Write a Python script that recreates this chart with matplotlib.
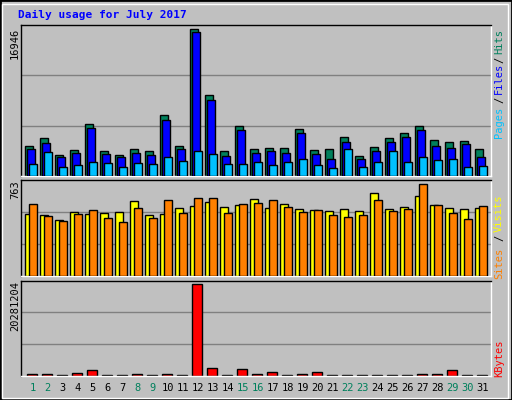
import matplotlib
matplotlib.use("Agg")
import matplotlib.pyplot as plt
from matplotlib.patches import Rectangle
import numpy as np

days = list(range(1, 32))
weekend = [1, 2, 8, 9, 15, 16, 22, 23, 29, 30]
hits = [3459, 4381, 2421, 2998, 5995, 2882, 2421, 3113, 2882, 7033, 3459, 16946, 9338, 2882, 5764, 3113,
        3228, 3228, 5418, 2998, 3113, 4496, 2306, 3343, 4381, 4957, 5764, 4150, 3920, 4035, 3113]
files = [3113, 3804, 2190, 2652, 5534, 2536, 2190, 2652, 2421, 6456, 3113, 16601, 8762, 2306, 5303, 2652,
         2882, 2652, 4957, 2536, 1960, 3920, 1960, 2882, 3920, 4496, 5303, 3459, 3228, 3689, 2190]
pages = [1383, 2767, 1038, 1268, 1614, 1499, 1038, 1499, 1383, 2190, 1729, 2882, 2536, 1383, 1383, 1614,
         1268, 1614, 1960, 1268, 922, 3113, 1038, 1614, 2882, 1614, 2190, 1845, 1960, 1038, 1153]
visits = [514, 506, 464, 531, 514, 522, 531, 622, 506, 514, 564, 580, 614, 572, 589, 638,
          564, 597, 556, 547, 539, 556, 539, 688, 556, 572, 663, 589, 564, 556, 564]
sites = [597, 498, 456, 514, 547, 481, 448, 564, 481, 630, 522, 647, 647, 522, 597, 605,
         630, 572, 531, 547, 506, 489, 506, 630, 539, 556, 763, 589, 522, 473, 580]
kbytes = [445740, 445740, 222870, 668610, 1337220, 222870, 222870, 445740, 222870, 445740, 222870, 20281204,
          1782960, 222870, 1560090, 445740, 891480, 222870, 445740, 891480, 222870, 222870, 222870, 222870,
          222870, 222870, 445740, 445740, 1337220, 222870, 222870]

BG = "#c0c0c0"
W, H = 512, 400
fig = plt.figure(figsize=(5.12, 4.0), dpi=100, facecolor=BG)
fig.add_artist(Rectangle((0, 0), 1, 1, transform=fig.transFigure, fill=False, ec="black", lw=2))
fig.add_artist(Rectangle((2/W, 2/H), 1-6/W, 1-6/H, transform=fig.transFigure, fill=False, ec="white", lw=1))

def ax_px(x0, y0, x1, y1):
    return fig.add_axes([x0 / W, 1 - y1 / H, (x1 - x0) / W, (y1 - y0) / H])

x = np.arange(31, dtype=float)
bw = 0.49

def setup(ax, ymax):
    ax.set_facecolor(BG)
    ax.set_xlim(-0.31, 31.03)
    ax.set_ylim(0, ymax)
    for v in (ymax / 3, 2 * ymax / 3):
        ax.axhline(v, color="#808080", lw=1, zorder=0)
    ax.set_xticks([]); ax.set_yticks([])
    for s in ax.spines.values():
        s.set_color("black"); s.set_linewidth(1)
    ax.spines["bottom"].set_color("white"); ax.spines["right"].set_color("white")

ax1 = ax_px(20.7, 24.7, 490.7, 176)
setup(ax1, 455 * 38.43)
ax1.bar(x, hits, width=bw, align="edge", color="#00805c", ec="black", lw=1, zorder=2)
ax1.bar(x + 0.13, files, width=bw, align="edge", color="#0000ff", ec="black", lw=1, zorder=3)
ax1.bar(x + 0.27, pages, width=bw, align="edge", color="#00c0ff", ec="black", lw=1, zorder=4)

ax2 = ax_px(20.7, 180, 490.7, 276.3)
setup(ax2, 289 * 2.764)
ax2.bar(x, visits, width=bw, align="edge", color="#ffff00", ec="black", lw=1, zorder=2)
ax2.bar(x + 0.27, sites, width=bw, align="edge", color="#ff8000", ec="black", lw=1, zorder=3)

ax3 = ax_px(20.7, 280.7, 490.7, 376)
setup(ax3, 284 * 74290)
ax3.bar(x + 0.13, kbytes, width=0.66, align="edge", color="#ff0000", ec="black", lw=1, zorder=2)

mono = "DejaVu Sans Mono"
def ftext(px, py, s, color, rot=90, size=7.5, **kw):
    fig.text(px / W, 1 - py / H, s, color=color, rotation=rot, ha="center", va="center",
             family=mono, fontsize=size, **kw)

fig.text(18 / W, 1 - 15 / H, "Daily usage for July 2017", color="#0000ff", family=mono,
         fontsize=8, fontweight="bold", ha="left", va="center")

ftext(15, 43, "16946", "black")
ftext(15, 190, "763", "black")
ftext(15, 306, "20281204", "black")

ftext(499, 41, "Hits", "#00805c")
ftext(499, 59.5, "/", "black")
ftext(499, 78, "Files", "#0000ff")
ftext(499, 100, "/", "black")
ftext(499, 122, "Pages", "#00c0ff")

ftext(499, 213, "Visits", "#ffff00")
ftext(499, 238, "/", "black")
ftext(499, 263, "Sites", "#ff8000")

ftext(499, 358, "KBytes", "#ff0000")

for d in days:
    px = 25.3 + (d - 1) * 15 + 7.5
    ftext(px, 388, str(d), "#00805c" if d in weekend else "black", rot=0)

fig.savefig("out.png", dpi=100, facecolor=BG)
